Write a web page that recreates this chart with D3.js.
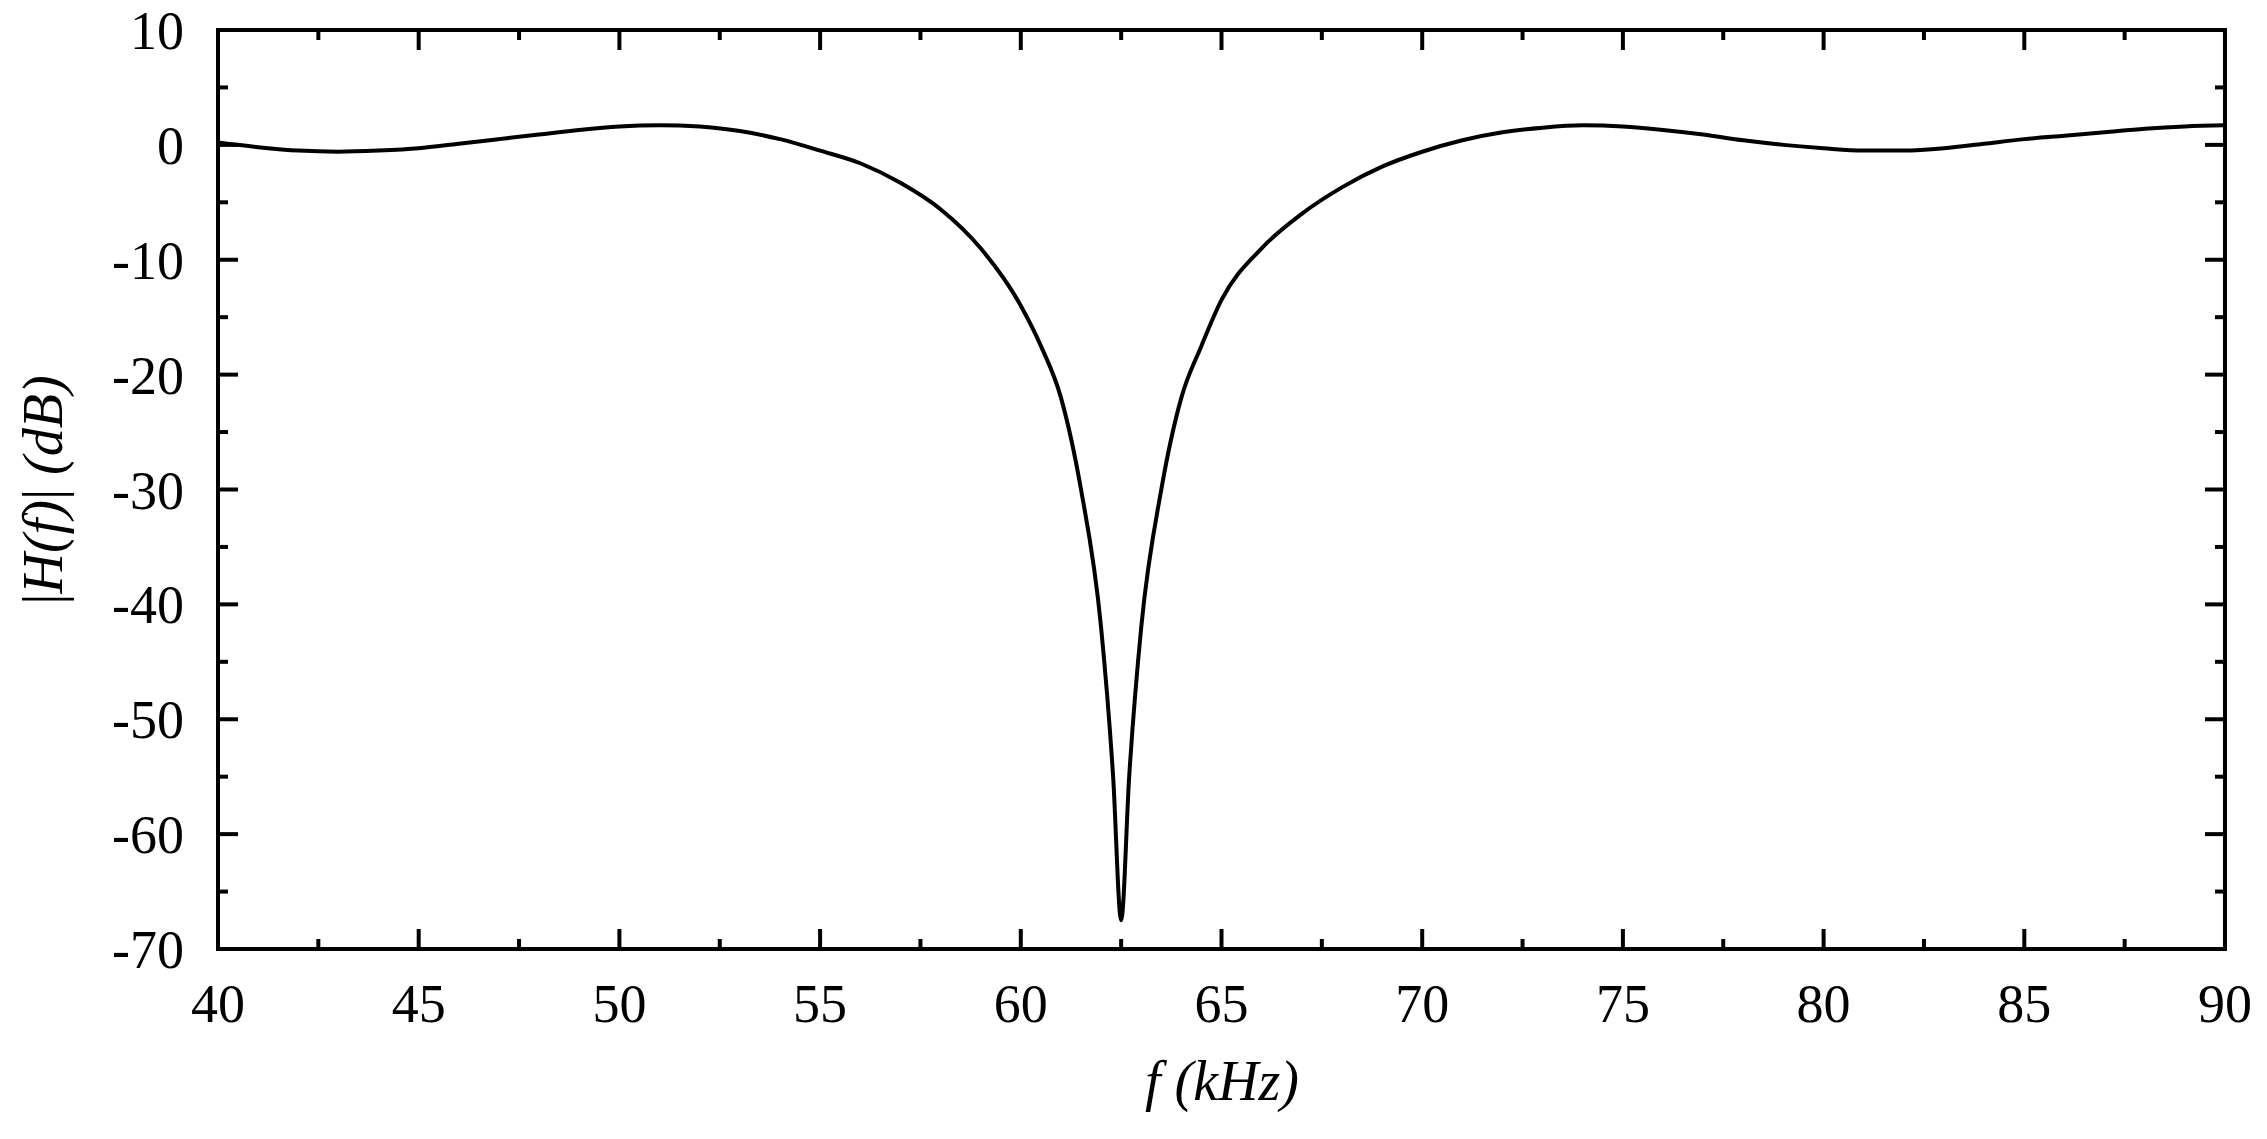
<!DOCTYPE html>
<html><head><meta charset="utf-8">
<script src="https://cdn.jsdelivr.net/npm/d3@7"></script>
<style>body{margin:0;background:#fff}text{font-family:"Liberation Serif","Times New Roman",serif;fill:#000}</style>
</head><body><svg id="c" width="2267" height="1139"></svg>
<script>
const freq = [40,41,42,43,44,45,46,47,48,49,50,51,52,53,54,55,56,57,58,59,60,60.5,61,61.5,62,62.3,62.5,62.7,63,63.5,64,64.5,65,66,67,68,69,70,71,72,73,74,75,76,77,78,79,80,81,82,83,84,85,86,87,88,89,90];
const gain = [0.2,-0.2,-0.5,-0.6,-0.5,-0.3,0.1,0.5,0.9,1.3,1.6,1.7,1.6,1.2,0.5,-0.5,-1.6,-3.3,-5.6,-9,-14,-17.5,-22,-30,-42,-55,-67.5,-55,-42,-30,-22,-17.5,-13.5,-9,-6,-3.7,-1.9,-0.6,0.4,1.1,1.5,1.7,1.6,1.3,0.9,0.4,0,-0.3,-0.5,-0.5,-0.3,0.1,0.5,0.8,1.1,1.4,1.6,1.7];
const xTicks = [40,45,50,55,60,65,70,75,80,85,90];
const yTicks = [10,0,-10,-20,-30,-40,-50,-60,-70];

const svg = d3.select("#c");
const L=218,R=2225,T=30,B=949;
const x = d3.scaleLinear().domain([40,90]).range([L,R]);
const y = d3.scaleLinear().domain([-70,10]).range([B,T]);
const g = svg.append("g");
const sw=4;
// ticks
const xMinor = d3.range(40,90.01,2.5), yMinor = d3.range(-70,10.01,5);
xMinor.forEach(v=>{const len = (v%5===0)?20:10;
  g.append("line").attr("x1",x(v)).attr("x2",x(v)).attr("y1",B).attr("y2",B-len).attr("stroke","#000").attr("stroke-width",sw);
  g.append("line").attr("x1",x(v)).attr("x2",x(v)).attr("y1",T).attr("y2",T+len).attr("stroke","#000").attr("stroke-width",sw);});
yMinor.forEach(v=>{const len = (v%10===0)?20:10;
  g.append("line").attr("y1",y(v)).attr("y2",y(v)).attr("x1",L).attr("x2",L+len).attr("stroke","#000").attr("stroke-width",sw);
  g.append("line").attr("y1",y(v)).attr("y2",y(v)).attr("x1",R).attr("x2",R-len).attr("stroke","#000").attr("stroke-width",sw);});
g.append("rect").attr("x",L).attr("y",T).attr("width",R-L).attr("height",B-T).attr("fill","none").attr("stroke","#000").attr("stroke-width",sw);
// labels
xTicks.forEach(v=>g.append("text").attr("x",x(v)).attr("y",1022).attr("text-anchor","middle").attr("font-size",54).text(v));
yTicks.forEach(v=>g.append("text").attr("x",184).attr("y",y(v)+19).attr("text-anchor","end").attr("font-size",54).text(v));
// curve
const line = d3.line().x((d,i)=>x(freq[i])).y(d=>y(d)).curve(d3.curveMonotoneX);
g.append("path").attr("d",line(gain)).attr("fill","none").attr("stroke","#000").attr("stroke-width",4).attr("stroke-linejoin","miter");
// axis titles
const xt = g.append("text").attr("x",1222).attr("y",1100).attr("text-anchor","middle").attr("font-size",56);
xt.append("tspan").attr("font-style","italic").text("f (kHz)");
const yt = g.append("text").attr("transform","translate(62,490) rotate(-90)").attr("text-anchor","middle").attr("font-size",56);
yt.append("tspan").text("|");
yt.append("tspan").attr("font-style","italic").text("H(f)");
yt.append("tspan").text("| ");
yt.append("tspan").attr("font-style","italic").text("(dB)");
</script></body></html>
